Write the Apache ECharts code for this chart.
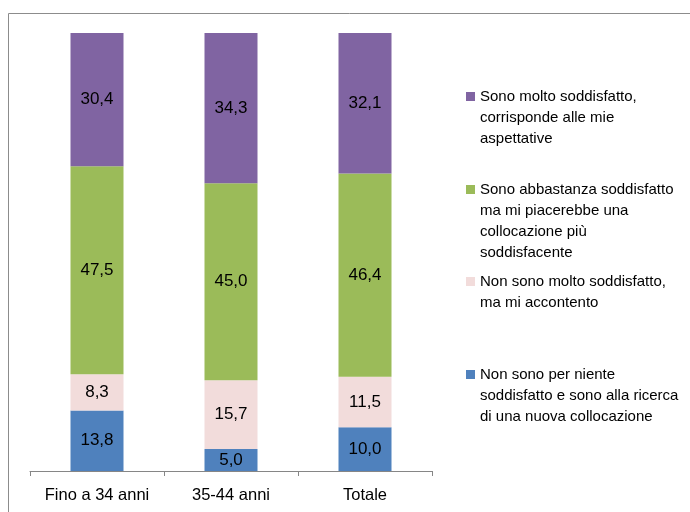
<!DOCTYPE html>
<html>
<head>
<meta charset="utf-8">
<script src="https://cdn.jsdelivr.net/npm/echarts@6/dist/echarts.min.js"></script>
<style>
  html, body { margin: 0; padding: 0; background: #fff; }
  #chart { width: 690px; height: 512px; }
</style>
</head>
<body>
<div id="chart"></div>
<script>
// categorie (asse x)
var categories = ['Fino a 34 anni', '35-44 anni', 'Totale'];
// serie, dal basso verso l'alto
var seriesNames = [
  'Non sono per niente soddisfatto e sono alla ricerca di una nuova collocazione',
  'Non sono molto soddisfatto, ma mi accontento',
  'Sono abbastanza soddisfatto ma mi piacerebbe una collocazione più soddisfacente',
  'Sono molto soddisfatto, corrisponde alle mie aspettative'
];
var perNiente = [13.8, 5.0, 10.0];
var nonMolto = [8.3, 15.7, 11.5];
var abbastanza = [47.5, 45.0, 46.4];
var molto = [30.4, 34.3, 32.1];
// righe della legenda come nell'originale
var legendLines = [
  ['Non sono per niente', 'soddisfatto e sono alla ricerca', 'di una nuova collocazione'],
  ['Non sono molto soddisfatto,', 'ma mi accontento'],
  ['Sono abbastanza soddisfatto', 'ma mi piacerebbe una', 'collocazione più', 'soddisfacente'],
  ['Sono molto soddisfatto,', 'corrisponde alle mie', 'aspettative']
];

var colors = ['#4F81BD', '#F2DCDB', '#9BBB59', '#8064A2'];
var allData = [perNiente, nonMolto, abbastanza, molto];
var legendTops = [367, 274, 182, 89];
var fontFam = 'Liberation Sans, Arial';

var chart = echarts.init(document.getElementById('chart'));

var series = allData.map(function (d, i) {
  return {
    name: seriesNames[i],
    type: 'bar',
    stack: 'tot',
    barWidth: 53,
    data: d,
    itemStyle: { color: colors[i] },
    label: {
      show: true,
      position: 'inside',
      color: '#000',
      fontSize: 17,
      fontFamily: fontFam,
      formatter: function (p) { return p.value.toFixed(1).replace('.', ','); }
    }
  };
});

// una legenda per voce, per avere le posizioni dell'originale
var legends = seriesNames.map(function (name, i) {
  return {
    data: [name],
    left: 461,
    top: legendTops[i],
    padding: 0,
    orient: 'vertical',
    itemWidth: 0,
    itemHeight: 0,
    itemGap: 0,
    selectedMode: false,
    formatter: function () {
      return legendLines[i].map(function (line, k) {
        return (k === 0 ? '{m|}' : '{s|}') + '{g|}{t|' + line + '}';
      }).join('\n');
    },
    textStyle: {
      rich: {
        m: { width: 9, height: 9, backgroundColor: colors[i], verticalAlign: 'middle' },
        s: { width: 9, height: 9 },
        g: { width: 5 },
        t: { fontSize: 15, lineHeight: 21, color: '#000', fontFamily: fontFam, verticalAlign: 'middle' }
      }
    }
  };
});

chart.setOption({
  animation: false,
  grid: { left: 30, right: 258, top: 33, bottom: 41 },
  legend: legends,
  xAxis: {
    type: 'category',
    data: categories,
    axisLine: { lineStyle: { color: '#868686' } },
    axisTick: { show: true, length: 5, lineStyle: { color: '#868686' } },
    axisLabel: { color: '#000', fontSize: 16.5, fontFamily: fontFam, margin: 16, interval: 0, hideOverlap: false }
  },
  yAxis: {
    type: 'value',
    min: 0,
    max: 100,
    show: false,
    splitLine: { show: false }
  },
  graphic: [{
    type: 'rect',
    shape: { x: 8.5, y: 13.5, width: 720, height: 520 },
    style: { fill: 'none', stroke: '#8c8c8c', lineWidth: 1 }
  }],
  series: series
});
</script>
</body>
</html>
